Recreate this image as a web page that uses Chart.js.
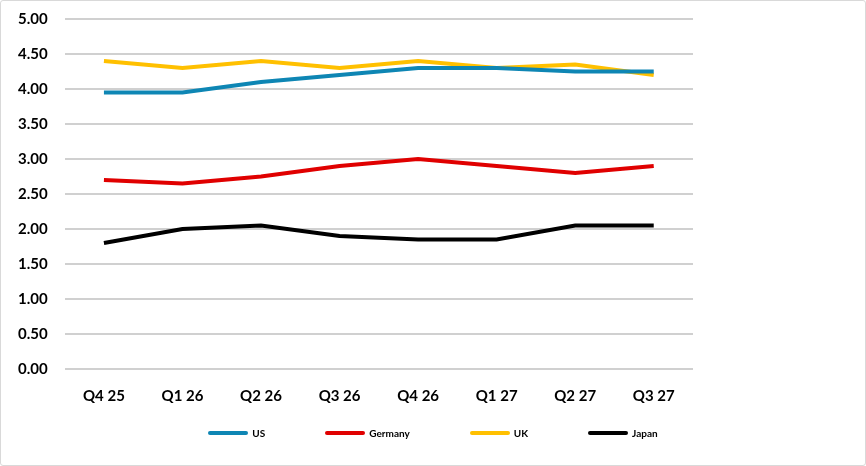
<!DOCTYPE html>
<html>
<head>
<meta charset="utf-8">
<script src="https://cdn.jsdelivr.net/npm/chart.js@4"></script>
<style>
  html, body { margin: 0; padding: 0; background: #fff; }
  #wrap { position: absolute; left: 0; top: 0; width: 864px; height: 464px; border: 1px solid #d9d9d9; border-radius: 3px; overflow: hidden; }
  canvas { display: block; margin-top: -8px; }
  #legend { position: absolute; left: 0; width: 866px; top: 426px; display: flex; justify-content: center; gap: 60px;
            font-family: Lato, 'Open Sans', 'Liberation Sans', sans-serif; font-size: 10px; font-weight: bold; color: #000; }
  .item { display: flex; align-items: center; gap: 4px; line-height: 14px; }
  .mark { display: inline-block; width: 40px; height: 4px; border-radius: 2px; }
</style>
</head>
<body>
<div id="wrap"><canvas id="c" width="864" height="472"></canvas></div>
<div id="legend"></div>
<script>
const categories = ["Q4 25", "Q1 26", "Q2 26", "Q3 26", "Q4 26", "Q1 27", "Q2 27", "Q3 27"];
const usValues      = [3.95, 3.95, 4.10, 4.20, 4.30, 4.30, 4.25, 4.25];
const germanyValues = [2.70, 2.65, 2.75, 2.90, 3.00, 2.90, 2.80, 2.90];
const ukValues      = [4.40, 4.30, 4.40, 4.30, 4.40, 4.30, 4.35, 4.20];
const japanValues   = [1.80, 2.00, 2.05, 1.90, 1.85, 1.85, 2.05, 2.05];
const seriesNames = ["US", "Germany", "UK", "Japan"];
const seriesColors = ["#0E86B4", "#E00000", "#FFC000", "#000000"];
const yMin = 0, yMax = 5, yStep = 0.5;

const allValues = [usValues, germanyValues, ukValues, japanValues];
const datasets = allValues.map((vals, i) => ({
  label: seriesNames[i],
  data: vals,
  borderColor: seriesColors[i],
  backgroundColor: seriesColors[i],
  borderWidth: 4,
  pointRadius: 0,
  pointHoverRadius: 0,
  tension: 0,
  fill: false,
  yAxisID: 'y'
}));

const fontFamily = "Lato, 'Open Sans', 'Liberation Sans', sans-serif";

const chart = new Chart(document.getElementById('c'), {
  type: 'line',
  data: { labels: categories, datasets },
  options: {
    responsive: false,
    animation: false,
    devicePixelRatio: 1,
    layout: { padding: { left: 0, top: 1, right: 0, bottom: 42 } },
    plugins: {
      tooltip: { enabled: false },
      legend: { display: false }
    },
    scales: {
      x: {
        offset: true,
        grid: { display: false, drawTicks: false },
        border: { display: false },
        ticks: {
          color: '#000',
          padding: 18,
          font: { family: fontFamily, size: 15, weight: 'bold' },
          maxRotation: 0
        }
      },
      y: {
        min: yMin,
        max: yMax,
        grid: { color: '#D0D0D0', lineWidth: 2, drawTicks: false },
        border: { display: false },
        ticks: {
          stepSize: yStep,
          color: '#000',
          padding: 17,
          font: { family: fontFamily, size: 15, weight: 'bold' },
          callback: v => Number(v).toFixed(2)
        }
      },
      yr: {
        position: 'right',
        display: true,
        grid: { display: false, drawTicks: false },
        border: { display: false },
        ticks: { display: false },
        afterFit: s => { s.width = 172; }
      }
    }
  }
});

// HTML legend built from the chart's datasets
const legendEl = document.getElementById('legend');
chart.data.datasets.forEach(ds => {
  const item = document.createElement('div');
  item.className = 'item';
  const mark = document.createElement('span');
  mark.className = 'mark';
  mark.style.background = ds.borderColor;
  const txt = document.createElement('span');
  txt.textContent = ds.label;
  item.appendChild(mark);
  item.appendChild(txt);
  legendEl.appendChild(item);
});
</script>
</body>
</html>
